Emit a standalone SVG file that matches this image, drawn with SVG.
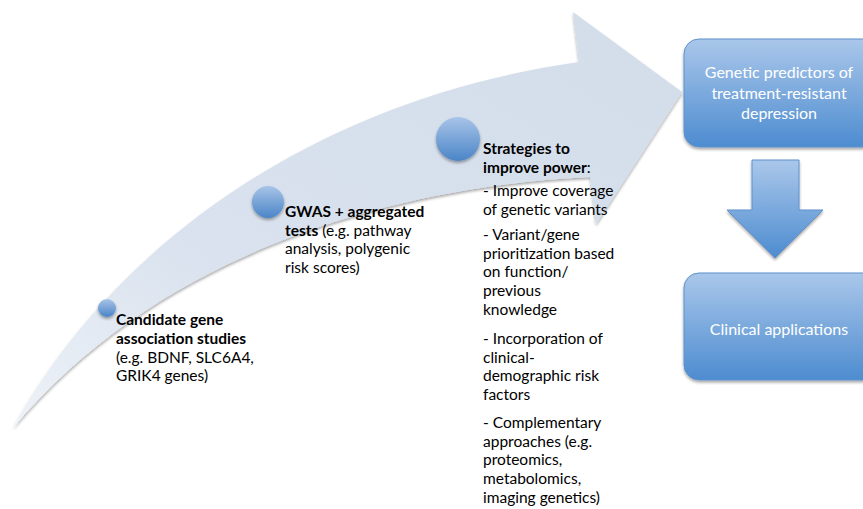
<svg xmlns="http://www.w3.org/2000/svg" width="863" height="509" viewBox="0 0 863 509">
<defs>
<linearGradient id="arrowFill" x1="0" y1="1" x2="1" y2="0">
<stop offset="0" stop-color="#eef2f8"/>
<stop offset="0.35" stop-color="#d9e2ee"/>
<stop offset="1" stop-color="#d3ddea"/>
</linearGradient>
<linearGradient id="blue" x1="0" y1="0" x2="0" y2="1">
<stop offset="0" stop-color="#aac7ea"/>
<stop offset="1" stop-color="#4d8cd0"/>
</linearGradient>
<linearGradient id="dot" x1="0" y1="0" x2="0" y2="1">
<stop offset="0" stop-color="#a8c4e8"/>
<stop offset="1" stop-color="#4a85c7"/>
</linearGradient>
<filter id="shadow" x="-10%" y="-10%" width="130%" height="130%">
<feGaussianBlur in="SourceAlpha" stdDeviation="1.5"/>
<feOffset dx="0" dy="2" result="b"/>
<feComponentTransfer><feFuncA type="linear" slope="0.35"/></feComponentTransfer>
<feMerge><feMergeNode/><feMergeNode in="SourceGraphic"/></feMerge>
</filter>
</defs>
<style>
.t{font-family:Lato,"Open Sans","Liberation Sans",sans-serif;font-size:15.5px;fill:#000}
.b{font-weight:bold}
.w{font-family:Lato,"Open Sans","Liberation Sans",sans-serif;font-size:16px;fill:#fff;text-anchor:middle}
.box{fill:url(#blue);stroke:#5e92cc;stroke-width:1;filter:url(#shadow)}
.dot{fill:url(#dot);filter:url(#shadow)}
</style>
<rect width="863" height="509" fill="#fff"/>
<g id="connectors">
<path id="curved-arrow" d="M13,428 C110,250 310,100 579,62 L573,12 L682,92 L596,224 L590,177 C420,185 170,240 13,428 Z" fill="url(#arrowFill)" filter="url(#shadow)"/>
<path id="down-arrow" d="M752,160 L799,160 L799,210 L823,210 L775,258 L727,210 L752,210 Z" fill="url(#blue)" stroke="#5e92cc" stroke-width="1" filter="url(#shadow)"/>
</g>
<g id="node-candidate">
<circle class="dot" cx="107" cy="308" r="9"/>
<text class="t"><tspan class="b" x="116" y="325">Candidate gene</tspan><tspan class="b" x="116" y="344">association studies</tspan><tspan x="116" y="362.5">(e.g. BDNF, SLC6A4,</tspan><tspan x="116" y="381">GRIK4 genes)</tspan></text>
</g>
<g id="node-gwas">
<circle class="dot" cx="268" cy="202" r="16"/>
<text class="t"><tspan class="b" x="285" y="217">GWAS + aggregated</tspan><tspan class="b" x="285" y="235.5">tests</tspan><tspan> (e.g. pathway</tspan><tspan x="285" y="254">analysis, polygenic</tspan><tspan x="285" y="272.5">risk scores)</tspan></text>
</g>
<g id="node-strategies">
<circle class="dot" cx="458" cy="139" r="22"/>
<text class="t"><tspan class="b" x="483" y="154">Strategies to</tspan><tspan class="b" x="483" y="172.5">improve power</tspan><tspan>:</tspan>
<tspan x="483" y="196">- Improve coverage</tspan><tspan x="483" y="214.5">of genetic variants</tspan>
<tspan x="483" y="240">- Variant/gene</tspan><tspan x="483" y="258.7">prioritization based</tspan><tspan x="483" y="277.4">on function/</tspan><tspan x="483" y="296.1">previous</tspan><tspan x="483" y="314.8">knowledge</tspan>
<tspan x="483" y="344">- Incorporation of</tspan><tspan x="483" y="362.7">clinical-</tspan><tspan x="483" y="381.4">demographic risk</tspan><tspan x="483" y="400.1">factors</tspan>
<tspan x="483" y="428">- Complementary</tspan><tspan x="483" y="446.7">approaches (e.g.</tspan><tspan x="483" y="465.4">proteomics,</tspan><tspan x="483" y="484.1">metabolomics,</tspan><tspan x="483" y="502.8">imaging genetics)</tspan></text>
</g>
<g id="node-predictors">
<rect class="box" x="684" y="39" width="194" height="108" rx="15"/>
<text class="w"><tspan x="779" y="78">Genetic predictors of</tspan><tspan x="779" y="99">treatment-resistant</tspan><tspan x="779" y="119">depression</tspan></text>
</g>
<g id="node-clinical">
<rect class="box" x="684" y="273" width="194" height="107" rx="15"/>
<text class="w" x="779" y="335">Clinical applications</text>
</g>
</svg>
